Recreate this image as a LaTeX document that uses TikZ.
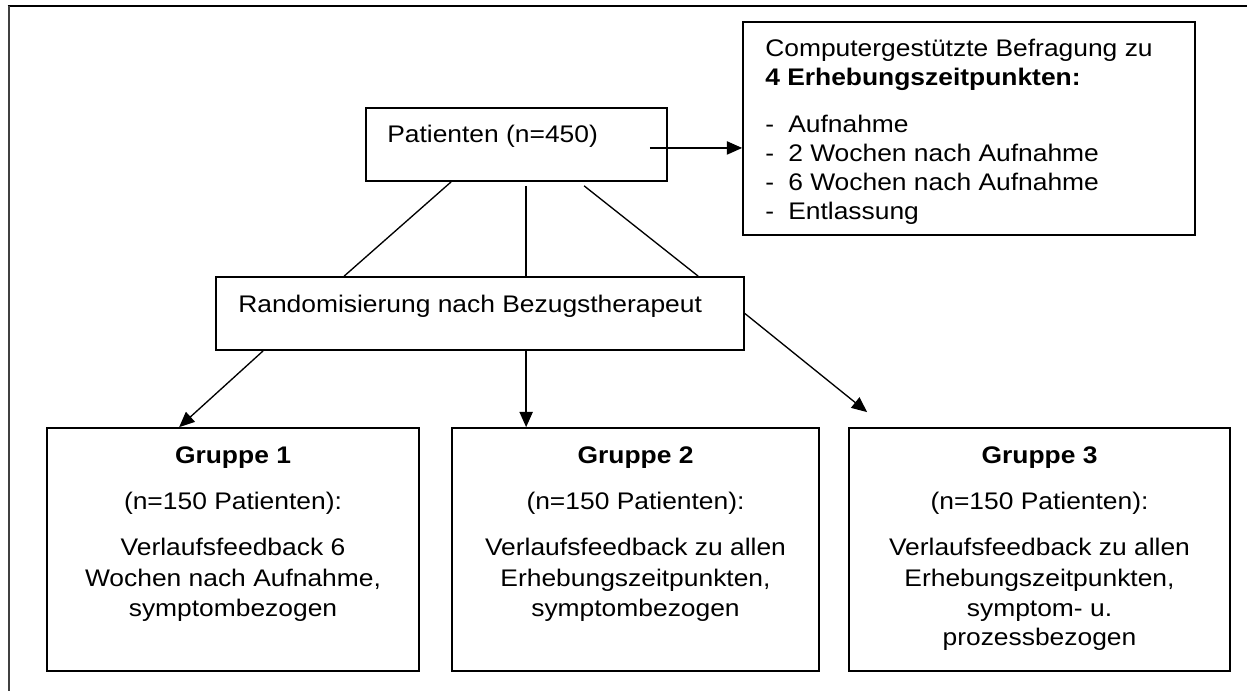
\documentclass[tikz,border=0pt]{standalone}
\usepackage{fontspec}
\setmainfont{Liberation Sans}[FakeStretch=1.1]
\usetikzlibrary{arrows.meta,fit}
\begin{document}
\begin{tikzpicture}[x=0.75pt,y=-0.75pt,
  box/.style={draw, line width=1.3pt, inner sep=0pt},
  txt/.style={inner sep=0pt, font=\fontsize{18pt}{22.5pt}\selectfont},
  lt/.style={txt, anchor=base west},
  ct/.style={txt, anchor=base},
  conn/.style={line width=1pt},
  arr/.style={conn, -{Triangle[length=11.5pt,width=10pt]}}]
\useasboundingbox (0,0) rectangle (1247,691);

% page frame (top and left rules)
\draw[line width=1.5pt] (7.5,6.5) -- (1247,6.5);
\draw[line width=1.5pt, black!75] (8.5,6.5) -- (8.5,691);

% boxes
\node[box, fit={(366,108) (667,181)}] (pat) {};
\node[box, fit={(743,22) (1195,235)}] (comp) {};
\node[box, fit={(216,277) (744,350)}] (rand) {};
\node[box, fit={(47,428) (419,671)}] (g1) {};
\node[box, fit={(452,428) (819,671)}] (g2) {};
\node[box, fit={(849,428) (1230,671)}] (g3) {};

% box texts
\node[lt] (patT) at (387,143) {Patienten (n=450)};
\node[lt] (randT) at (238,313) {Randomisierung nach Bezugstherapeut};

\node[lt] (compA) at (765,56.5) {Computergestützte Befragung zu};
\node[lt] (compB) at (765,86) {\bfseries 4 Erhebungszeitpunkten:};
\node[lt] (d1) at (765,133) {-};
\node[lt] (d2) at (765,162) {-};
\node[lt] (d3) at (765,191) {-};
\node[lt] (d4) at (765,220) {-};
\node[lt] (i1) at (788,133) {Aufnahme};
\node[lt] (i2) at (788,162) {2 Wochen nach Aufnahme};
\node[lt] (i3) at (788,191) {6 Wochen nach Aufnahme};
\node[lt] (i4) at (788,220) {Entlassung};

\node[ct] (g1a) at (233,464) {\bfseries Gruppe 1};
\node[ct] (g1b) at (233,510) {(n=150 Patienten):};
\node[ct] (g1c) at (233,556) {Verlaufsfeedback 6};
\node[ct] (g1d) at (233,586) {Wochen nach Aufnahme,};
\node[ct] (g1e) at (233,616) {symptombezogen};

\node[ct] (g2a) at (635.5,464) {\bfseries Gruppe 2};
\node[ct] (g2b) at (635.5,510) {(n=150 Patienten):};
\node[ct] (g2c) at (635.5,556) {Verlaufsfeedback zu allen};
\node[ct] (g2d) at (635.5,586) {Erhebungszeitpunkten,};
\node[ct] (g2e) at (635.5,616) {symptombezogen};

\node[ct] (g3a) at (1039.5,464) {\bfseries Gruppe 3};
\node[ct] (g3b) at (1039.5,510) {(n=150 Patienten):};
\node[ct] (g3c) at (1039.5,556) {Verlaufsfeedback zu allen};
\node[ct] (g3d) at (1039.5,586) {Erhebungszeitpunkten,};
\node[ct] (g3e) at (1039.5,616) {symptom- u.};
\node[ct] (g3f) at (1039.5,646) {prozessbezogen};

% patients -> survey
\draw[arr] ([xshift=-13.5pt,yshift=-2.6pt]pat.east) -- ([yshift=-14.6pt]comp.west);

% patients -> randomisation
\draw[conn] ([xshift=64.5pt]pat.south west) -- ([xshift=96.75pt]rand.north west);
\draw[conn] ([xshift=120.75pt,yshift=-3pt]pat.south west) -- ([xshift=233.25pt]rand.north west);
\draw[conn] ([xshift=164.25pt,yshift=-3pt]pat.south west) -- ([xshift=362.25pt]rand.north west);

% randomisation -> groups
\draw[arr] ([xshift=36pt]rand.south west) -- ([xshift=99.75pt]g1.north west);
\draw[arr] ([xshift=233.25pt]rand.south west) -- ([xshift=56.25pt]g2.north west);
\draw[arr] (rand.east) -- ([xshift=14.25pt,yshift=11.25pt]g3.north west);
\end{tikzpicture}
\end{document}
